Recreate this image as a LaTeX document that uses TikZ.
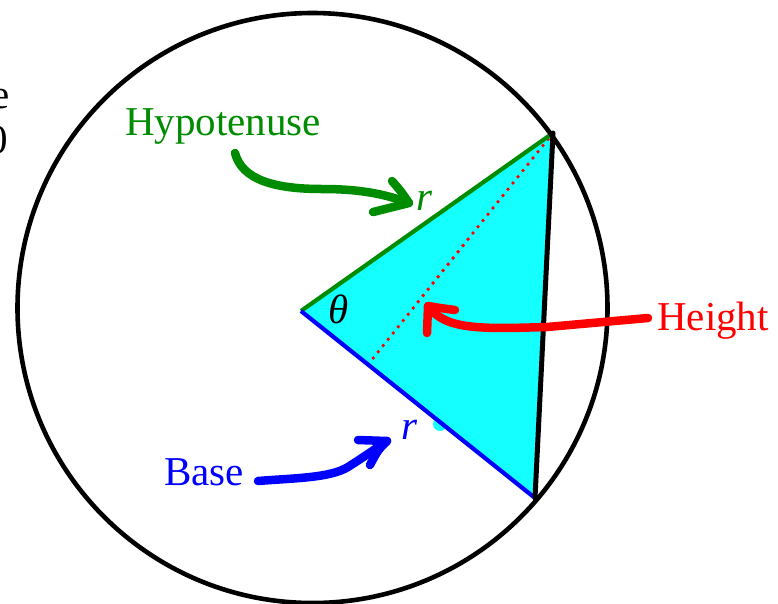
\documentclass[tikz,border=0pt]{standalone}
\usepackage{fontspec}
\setmainfont{Liberation Serif}
\usetikzlibrary{calc}
\definecolor{hgreen}{RGB}{0,140,0}
\definecolor{hblue}{RGB}{0,0,255}
\definecolor{hred}{RGB}{255,0,0}
\definecolor{hcyan}{RGB}{20,255,255}
\tikzset{
  lbl/.style={inner sep=0pt, font=\fontsize{41}{48}\selectfont},
  rlbl/.style={inner sep=0pt, font=\fontsize{41}{48}\selectfont\itshape},
  pen/.style={line width=8.5pt, line cap=round, line join=round},
}
\begin{document}
\begin{tikzpicture}[x=1pt,y=-1pt]
\useasboundingbox (0,0) rectangle (778,603);
\fill[white] (0,0) rectangle (778,603);
% vertices
\coordinate (O) at (301,311);
\coordinate (T) at (553,133);
\coordinate (B) at (535,498);
\coordinate (F) at ($(O)!(T)!(B)$);
% triangle fill
\fill[hcyan] (O) -- (T) -- (B) -- cycle;
\fill[hcyan] (436,250) circle (7);
\fill[hcyan] (440,424) circle (7);
% height (dotted)
\draw[hred, line width=3.8pt, line cap=round, dash pattern=on 0pt off 8pt] (T) -- (F);
% sides
\draw[hgreen, line width=4.2pt] (O) -- (T);
\draw[hblue, line width=4.2pt] (O) -- (B);
\draw[black, line width=5pt, line cap=round] (T) -- (B);
% circle
\node[draw=black, line width=4.6pt, circle, minimum size=590pt, inner sep=0pt] (circ) at (312.5,308) {};
% labels
\node[lbl, text=hgreen, anchor=base] (hyp) at (223,135) {Hypotenuse};
\node[lbl, text=hblue, anchor=base] (base) at (204,485) {Base};
\node[lbl, text=hred, anchor=base] (hgt) at (713,330) {Height};
\node[rlbl, text=hgreen, anchor=base] (rg) at (424,210) {r};
\node[rlbl, text=hblue, anchor=base] (rb) at (409,439) {r};
\node[rlbl, anchor=base] (th) at (339,323) {θ};
\node[lbl, anchor=base east] (pe) at (10,108) {e};
\node[lbl, anchor=base east] (pz) at (8,153) {0};
% green arrow
\coordinate (g0) at (235,153);
\coordinate (gtip) at (409,203);
\coordinate (gw1) at (392,181);
\coordinate (gw2) at (373,212);
\draw[hgreen, pen] (g0) .. controls (242,180) and (275,189) .. (322,189)
  .. controls (360,189) and (385,194) .. (gtip);
\draw[hgreen, pen] (gw1) .. controls (400,190) .. (gtip) -- (gw2);
% blue arrow
\coordinate (b0) at (258,481);
\coordinate (btip) at (387,441);
\coordinate (bw1) at (358,440);
\coordinate (bw2) at (370,465);
\draw[hblue, pen] (b0) .. controls (295,478) and (330,478) .. (348,467)
  .. controls (362,458) .. (btip);
\draw[hblue, pen] (bw1) -- (btip) .. controls (378,450) .. (bw2);
% red arrow
\coordinate (r0) at (648,318);
\coordinate (rtip) at (428,306);
\coordinate (rw1) at (455,310);
\coordinate (rw2) at (427,333);
\draw[hred, pen] (r0) -- (547,327) .. controls (480,329) and (445,330) .. (rtip);
\draw[hred, pen] (rw1) .. controls (440,308) .. (rtip) -- (rw2);
\end{tikzpicture}
\end{document}
